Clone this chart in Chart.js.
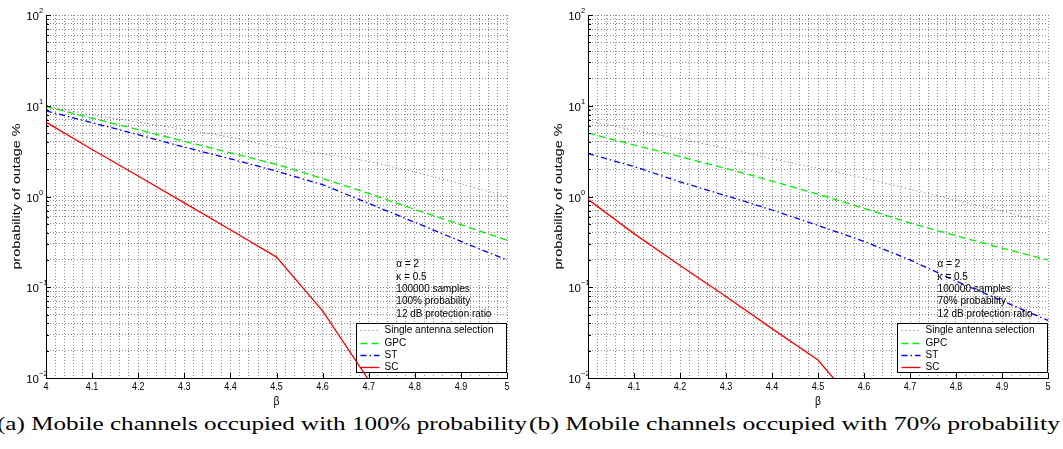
<!DOCTYPE html>
<html>
<head>
<meta charset="utf-8">
<script src="https://cdn.jsdelivr.net/npm/chart.js@4/dist/chart.umd.min.js"></script>
<style>
  html, body { margin: 0; padding: 0; background: #fff; width: 1063px; height: 449px; overflow: hidden; }
  canvas { position: absolute; top: 0; }
  #chartA { left: 0; }
  #chartB { left: 542px; }
  .cap { position: absolute; top: 412px; font-family: 'Liberation Serif', 'Times New Roman', serif;
         font-size: 19px; line-height: 24px; white-space: nowrap; color: #000; transform-origin: 0 0; }
  #capA { left: -3px; }
  #capB { left: 529px; }
</style>
</head>
<body>
<canvas id="chartA" width="530" height="410" style="width:530px;height:410px"></canvas>
<canvas id="chartB" width="521" height="410" style="width:521px;height:410px"></canvas>
<div class="cap" id="capA">(a) Mobile channels occupied with 100% probability</div>
<div class="cap" id="capB">(b) Mobile channels occupied with 70% probability</div>
<script>
// beta values at which the outage probability was simulated
const beta = [4.0, 4.1, 4.2, 4.3, 4.4, 4.5, 4.6, 4.7, 4.8, 4.9, 5.0];
const betaLabels = ['4', '4.1', '4.2', '4.3', '4.4', '4.5', '4.6', '4.7', '4.8', '4.9', '5'];

// (a) mobile channels occupied with 100% probability — outage in %
const singleA = [10.0, 7.9, 6.6, 5.5, 4.5, 3.5, 2.95, 2.45, 1.86, 1.38, 1.0];
const gpcA    = [9.8, 7.3, 5.45, 4.06, 3.03, 2.26, 1.58, 1.08, 0.72, 0.49, 0.33];
const stA     = [8.8, 6.5, 4.8, 3.5, 2.6, 1.9, 1.35, 0.84, 0.52, 0.32, 0.20];
const scA     = [6.6, 3.3, 1.68, 0.85, 0.43, 0.215, 0.055, 0.0095, null, null, null];

// (b) mobile channels occupied with 70% probability — outage in %
const singleB = [6.8, 5.4, 4.3, 3.4, 2.6, 2.05, 1.6, 1.2, 0.91, 0.69, 0.52];
const gpcB    = [5.0, 3.7, 2.75, 2.04, 1.48, 1.06, 0.74, 0.51, 0.37, 0.27, 0.20];
const stB     = [2.97, 2.14, 1.45, 1.02, 0.71, 0.48, 0.32, 0.20, 0.117, 0.071, 0.043];
const scB     = [0.93, 0.39, 0.174, 0.079, 0.035, 0.0158, 0.004, null, null, null, null];

const seriesNames = ['Single antenna selection', 'GPC', 'ST', 'SC'];
const decades = [-2, -1, 0, 1, 2];
const notesA = ['\u03b1 = 2', '\u03ba = 0.5', '100000 samples', '100% probability', '12 dB protection ratio'];
const notesB = ['\u03b1 = 2', '\u03ba = 0.5', '100000 samples', '70% probability', '12 dB protection ratio'];

// grid positions: every 0.02 along beta, 1..9 per decade along the outage axis
const xGrid = [];
for (let i = 0; i <= 50; i++) xGrid.push(+(4 + i * 0.02).toFixed(2));
const yGrid = [];
for (let e = -2; e < 2; e++) for (let m = 1; m <= 9; m++) yGrid.push(+(m * Math.pow(10, e)).toPrecision(3));
yGrid.push(100);

const SANS = "'Liberation Sans', Arial, Helvetica, sans-serif";
const GRID = 'rgba(0,0,0,0.45)';

const styles = [
  { borderColor: 'rgba(0,0,0,0.55)', borderDash: [1, 3], borderWidth: 1 },
  { borderColor: '#00ee00', borderDash: [7, 4], borderWidth: 1.3 },
  { borderColor: '#0000ff', borderDash: [6, 3, 1.5, 3], borderWidth: 1.3 },
  { borderColor: '#ff0000', borderDash: [], borderWidth: 1.3 }
];

function decorPlugin(notes) {
  return {
    id: 'decor',
    beforeDatasetsDraw(chart) {
      // legend box, lower right of the plot; curves pass over it
      const { ctx, chartArea: a } = chart;
      const w = 150, h = 49;
      const bx = Math.round(a.right - 1 - w) + 0.5, by = Math.round(a.bottom - 6 - h) + 0.5;
      ctx.save();
      ctx.fillStyle = '#fff';
      ctx.fillRect(bx, by, w, h);
      ctx.strokeStyle = '#000';
      ctx.lineWidth = 1;
      ctx.strokeRect(bx, by, w, h);
      ctx.font = '10px ' + SANS;
      ctx.textBaseline = 'middle';
      ctx.fillStyle = '#000';
      chart.data.datasets.forEach((ds, i) => {
        const ry = Math.round(by + 6.8 + 12.3 * i) + 0.5;
        ctx.save();
        ctx.strokeStyle = ds.borderColor;
        ctx.lineWidth = ds.borderWidth;
        ctx.setLineDash(ds.borderDash || []);
        ctx.beginPath();
        ctx.moveTo(bx + 4, ry);
        ctx.lineTo(bx + 23, ry);
        ctx.stroke();
        ctx.restore();
        ctx.fillText(ds.label, bx + 28, ry);
      });
      ctx.restore();
    },
    afterDatasetsDraw(chart) {
      const { ctx, chartArea: a, scales: { x, y } } = chart;
      ctx.save();
      ctx.strokeStyle = '#000';
      ctx.lineWidth = 1;
      ctx.beginPath();
      // inward tick marks
      beta.forEach(v => {
        const px = Math.round(x.getPixelForValue(v)) + 0.5;
        ctx.moveTo(px, a.bottom); ctx.lineTo(px, a.bottom - 5);
      });
      yGrid.forEach(v => {
        const py = Math.round(y.getPixelForValue(v)) + 0.5;
        const major = Math.abs(Math.log10(v) - Math.round(Math.log10(v))) < 1e-9;
        ctx.moveTo(a.left, py); ctx.lineTo(a.left + (major ? 5 : 3), py);
      });
      ctx.stroke();

      ctx.fillStyle = '#000';
      // beta tick labels (slightly tall glyphs)
      ctx.font = '10px ' + SANS;
      ctx.textAlign = 'center';
      ctx.textBaseline = 'middle';
      beta.forEach((v, i) => {
        ctx.save();
        ctx.translate(x.getPixelForValue(v), a.bottom + 9);
        ctx.scale(0.9, 1.15);
        ctx.fillText(betaLabels[i], 0, 0);
        ctx.restore();
      });
      // decade tick labels 10^k
      decades.forEach(e => {
        const py = y.getPixelForValue(Math.pow(10, e));
        ctx.font = '11.5px ' + SANS;
        ctx.textAlign = 'right';
        ctx.textBaseline = 'middle';
        ctx.fillText('10', a.left - 7, py + 2);
        ctx.font = '7.5px ' + SANS;
        ctx.textAlign = 'left';
        ctx.fillText(e < 0 ? '\u2212' + (-e) : String(e), a.left - 7, py - 4);
      });
      // axis titles
      ctx.font = '11px ' + SANS;
      ctx.textAlign = 'center';
      ctx.textBaseline = 'middle';
      ctx.save();
      ctx.translate((a.left + a.right) / 2, a.bottom + 23);
      ctx.scale(0.95, 1.2);
      ctx.fillText('\u03b2', 0, 0);
      ctx.restore();
      ctx.save();
      ctx.translate(17, (a.top + a.bottom) / 2);
      ctx.rotate(-Math.PI / 2);
      ctx.scale(1.25, 1.0);
      ctx.font = '11.5px ' + SANS;
      ctx.fillText('probability of outage %', 0, 0);
      ctx.restore();
      // parameter notes
      ctx.font = '10px ' + SANS;
      ctx.textAlign = 'left';
      const nx = x.getPixelForValue(4.76);
      const ny = y.getPixelForValue(0.178);
      notes.forEach((t, i) => ctx.fillText(t, nx, ny + 12.4 * i));
      ctx.restore();
    }
  };
}

function makeChart(id, series, notes, padRight) {
  const datasets = series.map((vals, i) => Object.assign({
    label: seriesNames[i],
    data: vals.map((v, k) => ({ x: beta[k], y: v })),
    pointRadius: 0,
    fill: false,
    tension: 0,
    spanGaps: false
  }, styles[i]));

  return new Chart(document.getElementById(id), {
    type: 'line',
    data: { datasets },
    options: {
      responsive: false,
      animation: false,
      events: [],
      layout: { padding: { top: 15, right: padRight, left: 0, bottom: 0 } },
      plugins: { legend: { display: false }, tooltip: { enabled: false } },
      scales: {
        x: {
          type: 'linear', min: 4, max: 5,
          afterBuildTicks: s => { s.ticks = xGrid.map(v => ({ value: v })); },
          afterFit: s => { s.height = 32; },
          ticks: { display: false, autoSkip: false },
          grid: { color: GRID, lineWidth: 1, drawTicks: false },
          border: { display: true, color: '#000', width: 1, dash: [1, 2] }
        },
        y: {
          type: 'logarithmic', min: 0.01, max: 100,
          afterBuildTicks: s => { s.ticks = yGrid.map(v => ({ value: v })); },
          afterFit: s => { s.width = 46; },
          ticks: { display: false, autoSkip: false },
          grid: { color: GRID, lineWidth: 1, drawTicks: false },
          border: { display: true, color: '#000', width: 1, dash: [1, 2] }
        }
      }
    },
    plugins: [decorPlugin(notes)]
  });
}

makeChart('chartA', [singleA, gpcA, stA, scA], notesA, 23);
makeChart('chartB', [singleB, gpcB, stB, scB], notesB, 15);

// stretch each caption across the width of its subfigure
const capA = document.getElementById('capA');
const capB = document.getElementById('capB');
capA.style.transform = 'scaleX(' + (530 / capA.getBoundingClientRect().width) + ')';
capB.style.transform = 'scaleX(' + (531 / capB.getBoundingClientRect().width) + ')';
</script>
</body>
</html>
